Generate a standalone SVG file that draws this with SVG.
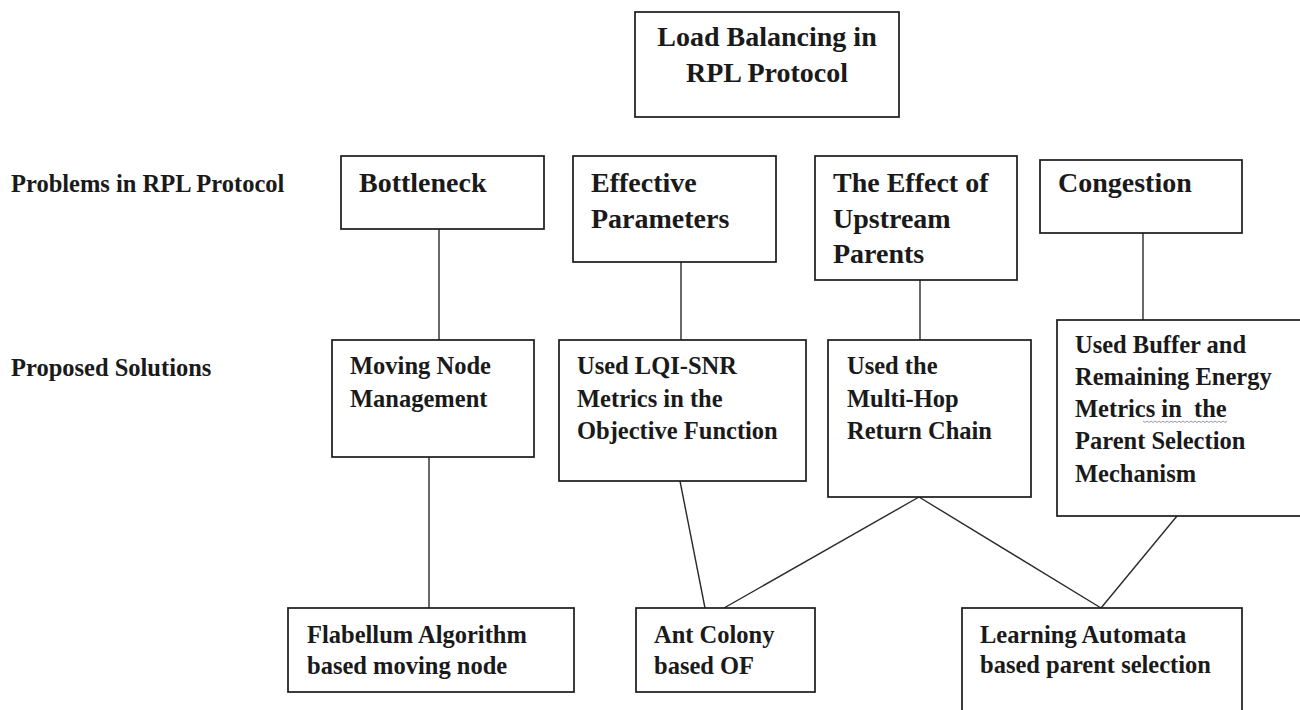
<svg xmlns="http://www.w3.org/2000/svg" width="1300" height="710" viewBox="0 0 1300 710">
<style>
  .box { fill: #ffffff; stroke: #1a1a1a; stroke-width: 1.7; }
  .t { font-family: "Liberation Serif", "Times New Roman", serif; font-weight: bold; fill: #1a1a1a; }
  .big { font-size: 28px; }
  .sm { font-size: 24.5px; }
  .conn line { stroke: #2a2a2a; stroke-width: 1.4; }
  .squig { fill: none; stroke: #8a8fa8; stroke-width: 0.9; }
</style>
<rect width="1300" height="710" fill="#ffffff"/>

<g id="connectors" class="conn">
  <line x1="439" y1="229" x2="439" y2="340"/>
  <line x1="681" y1="262" x2="681" y2="340"/>
  <line x1="920" y1="280" x2="920" y2="340"/>
  <line x1="1143" y1="233" x2="1143" y2="320"/>
  <line x1="429" y1="457" x2="429" y2="608"/>
  <line x1="680" y1="481" x2="705" y2="608"/>
  <line x1="919" y1="497" x2="724" y2="608"/>
  <line x1="919" y1="497" x2="1101" y2="608"/>
  <line x1="1177" y1="516" x2="1101" y2="608"/>
</g>

<g id="title">
  <rect class="box" x="635" y="12" width="264" height="105"/>
  <text class="t big" x="767" y="46" text-anchor="middle">Load Balancing in</text>
  <text class="t big" x="767" y="82" text-anchor="middle">RPL Protocol</text>
</g>

<g id="label-problems">
  <text class="t sm" x="11" y="192">Problems in RPL Protocol</text>
</g>
<g id="label-solutions">
  <text class="t sm" x="11" y="376">Proposed Solutions</text>
</g>

<g id="bottleneck">
  <rect class="box" x="341" y="156" width="203" height="73"/>
  <text class="t big" x="359" y="192">Bottleneck</text>
</g>

<g id="effective-parameters">
  <rect class="box" x="573" y="156" width="203" height="106"/>
  <text class="t big" x="591" y="192">Effective</text>
  <text class="t big" x="591" y="228">Parameters</text>
</g>

<g id="upstream-parents">
  <rect class="box" x="815" y="156" width="202" height="124"/>
  <text class="t big" x="833" y="192">The Effect of</text>
  <text class="t big" x="833" y="228">Upstream</text>
  <text class="t big" x="833" y="263">Parents</text>
</g>

<g id="congestion">
  <rect class="box" x="1040" y="160" width="202" height="73"/>
  <text class="t big" x="1058" y="192">Congestion</text>
</g>

<g id="moving-node">
  <rect class="box" x="332" y="340" width="202" height="117"/>
  <text class="t sm" x="350" y="374">Moving Node</text>
  <text class="t sm" x="350" y="407">Management</text>
</g>

<g id="lqi-snr">
  <rect class="box" x="559" y="340" width="247" height="141"/>
  <text class="t sm" x="577" y="374">Used LQI-SNR</text>
  <text class="t sm" x="577" y="407">Metrics in the</text>
  <text class="t sm" x="577" y="439">Objective Function</text>
</g>

<g id="multi-hop">
  <rect class="box" x="828" y="340" width="203" height="157"/>
  <text class="t sm" x="847" y="374">Used the</text>
  <text class="t sm" x="847" y="407">Multi-Hop</text>
  <text class="t sm" x="847" y="439">Return Chain</text>
</g>

<g id="buffer-energy">
  <rect class="box" x="1057" y="320" width="260" height="196"/>
  <text class="t sm" x="1075" y="353">Used Buffer and</text>
  <text class="t sm" x="1075" y="385">Remaining Energy</text>
  <text class="t sm" x="1075" y="417" xml:space="preserve">Metrics in  the</text>
  <text class="t sm" x="1075" y="449">Parent Selection</text>
  <text class="t sm" x="1075" y="482">Mechanism</text>
  <path class="squig" d="M1143 421 l2 1.5 l2 -1.5 l2 1.5 l2 -1.5 l2 1.5 l2 -1.5 l2 1.5 l2 -1.5 l2 1.5 l2 -1.5 l2 1.5 l2 -1.5 l2 1.5 l2 -1.5 l2 1.5 l2 -1.5 l2 1.5 l2 -1.5 l2 1.5 l2 -1.5 l2 1.5 l2 -1.5 l2 1.5 l2 -1.5 l2 1.5 l2 -1.5 l2 1.5 l2 -1.5 l2 1.5 l2 -1.5 l2 1.5 l2 -1.5 l2 1.5 l2 -1.5 l2 1.5 l2 -1.5 l2 1.5 l2 -1.5 l2 1.5 l2 -1.5 l2 1.5 l2 -1.5"/>
</g>

<g id="flabellum">
  <rect class="box" x="288" y="608" width="286" height="84"/>
  <text class="t sm" x="307" y="643">Flabellum Algorithm</text>
  <text class="t sm" x="307" y="674">based moving node</text>
</g>

<g id="ant-colony">
  <rect class="box" x="636" y="608" width="179" height="84"/>
  <text class="t sm" x="654" y="643">Ant Colony</text>
  <text class="t sm" x="654" y="674">based OF</text>
</g>

<g id="learning-automata">
  <rect class="box" x="962" y="608" width="280" height="120"/>
  <text class="t sm" x="980" y="643">Learning Automata</text>
  <text class="t sm" x="980" y="673">based parent selection</text>
</g>
</svg>
